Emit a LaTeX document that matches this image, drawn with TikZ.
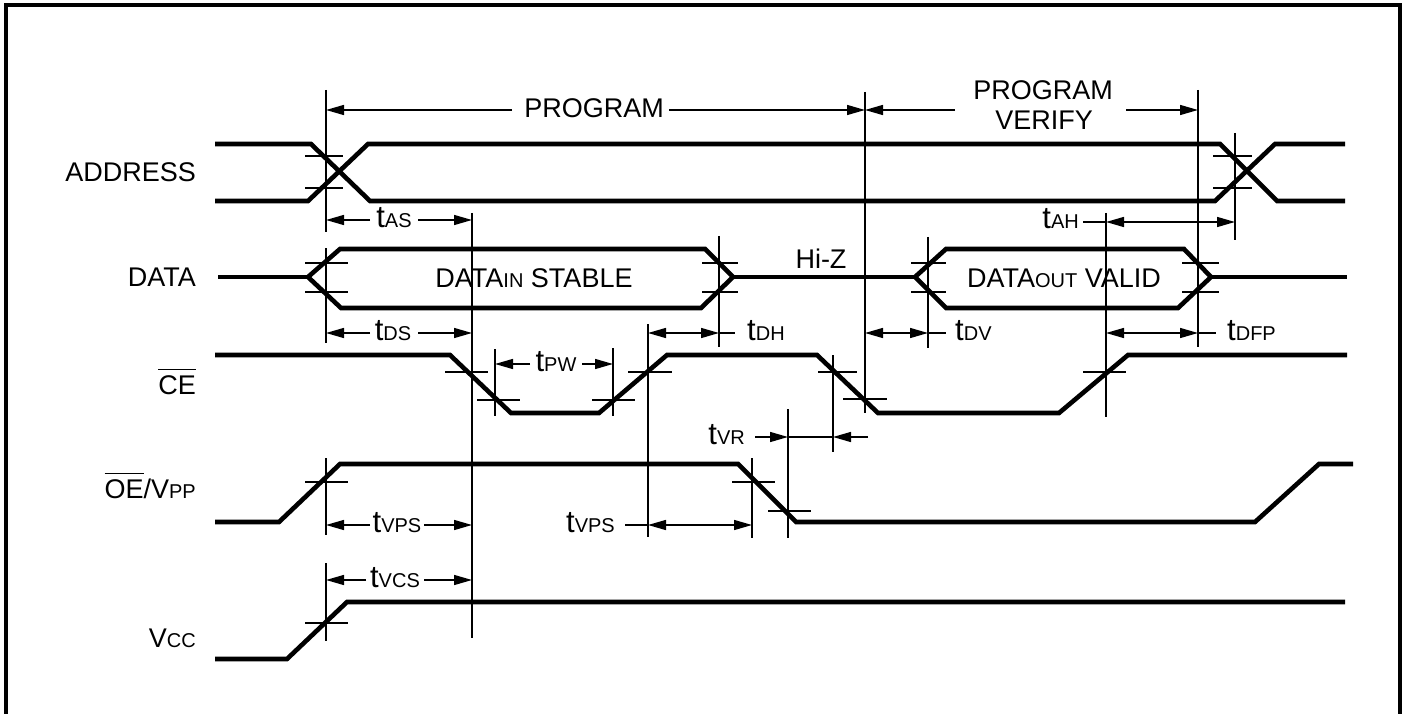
\documentclass[tikz,border=0pt]{standalone}
\usepackage{fontspec}
\setmainfont{Liberation Sans}
\usetikzlibrary{arrows.meta}
\newcommand\smc[1]{{\fontsize{20pt}{22pt}\selectfont #1}}
\newcommand\tee{{\fontsize{31pt}{31pt}\selectfont t}}
\newcommand\ovl[1]{\vbox{\hrule height 1.4pt\kern 5pt\hbox{#1}}}
\begin{document}
\begin{tikzpicture}[x=1pt,y=-1pt,
  sig/.style={line width=4.6pt, line join=miter},
  thin/.style={line width=1.4pt},
  dim/.style={thin, -{Triangle[length=18pt,width=10pt]}},
  ddim/.style={thin, {Triangle[length=18pt,width=10pt]}-{Triangle[length=18pt,width=10pt]}},
  lbl/.style={inner sep=0pt, anchor=base east},
  tl/.style={inner sep=0pt, anchor=base},
  tle/.style={inner sep=0pt, anchor=base east},
  tlw/.style={inner sep=0pt, anchor=base west},
  every node/.style={font=\fontsize{27pt}{30pt}\selectfont}
]
\useasboundingbox (0,0) rectangle (1408,714);
% border
\draw[line width=3.3pt] (6,714)--(6,5)--(1400,5)--(1400,714);

% signal names
\node[lbl] (nAddr) at (196,182) {ADDRESS};
\node[lbl] (nData) at (196,286) {DATA};
\node[lbl] (nCE) at (196,394) {\ovl{CE}};
\node[lbl] (nOE) at (196,498) {\ovl{OE}/V\smc{PP}};
\node[lbl] (nVcc) at (196,647) {V\smc{CC}};

% ADDRESS
\draw[sig] (215,144)--(311,144)--(370,201)--(1215,201)--(1275,144)--(1345,144);
\draw[sig] (215,201)--(308,201)--(368,144)--(1220,144)--(1277,201)--(1345,201);
% DATA
\draw[sig] (218,277)--(308,277);
\draw[sig] (308,277)--(340,249)--(705,249)--(733,277)--(701,308)--(341,308)--cycle;
\draw[sig] (733,277)--(915,277);
\draw[sig] (915,277)--(946,249)--(1184,249)--(1211,277)--(1178,308)--(946,308)--cycle;
\draw[sig] (1211,277)--(1347,277);
% CE
\draw[sig] (215,355)--(450,355)--(511,413)--(599,413)--(667,355)--(817,355)--(878,413)--(1059,413)--(1128,355)--(1347,355);
% OE/VPP
\draw[sig] (215,522)--(279,522)--(340,464)--(738,464)--(796,522)--(1255,522)--(1319,464)--(1353,464);
% VCC
\draw[sig] (215,659)--(287,659)--(347,602)--(1345,602);

% ticks
\foreach \y in {156,188} {
  \draw[thin] (305,\y)--(343,\y);
  \draw[thin] (1213,\y)--(1252,\y);
}
\foreach \y in {263,292} {
  \draw[thin] (305,\y)--(348,\y);
  \draw[thin] (702,\y)--(738,\y);
  \draw[thin] (911,\y)--(946,\y);
  \draw[thin] (1182,\y)--(1219,\y);
}
\draw[thin] (445,372)--(488,372);
\draw[thin] (477,400)--(520,400);
\draw[thin] (592,400)--(635,400);
\draw[thin] (628,372)--(672,372);
\draw[thin] (818,372)--(857,372);
\draw[thin] (843,399)--(887,399);
\draw[thin] (1083,372)--(1126,372);
\draw[thin] (305,482)--(348,482);
\draw[thin] (732,482)--(775,482);
\draw[thin] (768,511)--(811,511);
\draw[thin] (305,623)--(348,623);

% verticals
\draw[thin] (326,90)--(326,232);
\draw[thin] (326,248)--(326,343);
\draw[thin] (326,458)--(326,535);
\draw[thin] (326,563)--(326,641);
\draw[thin] (472,213)--(472,638);
\draw[thin] (495,349)--(495,416);
\draw[thin] (613,348)--(613,416);
\draw[thin] (648,324)--(648,537);
\draw[thin] (719,236)--(719,347);
\draw[thin] (752,458)--(752,538);
\draw[thin] (788,409)--(788,538);
\draw[thin] (833,355)--(833,452);
\draw[thin] (865,92)--(865,413);
\draw[thin] (928,237)--(928,348);
\draw[thin] (1106,213)--(1106,417);
\draw[thin] (1198,90)--(1198,347);
\draw[thin] (1235,133)--(1235,240);

% PROGRAM
\node[tl] (nProg) at (594,118) {PROGRAM};
\draw[dim] (512,110)--(326,110);
\draw[dim] (669,110)--(865,110);
\node[tl] (nPV1) at (1043,100) {PROGRAM};
\node[tl] (nPV2) at (1044,130) {VERIFY};
\draw[dim] (955,110)--(865,110);
\draw[dim] (1126,110)--(1198,110);

% tAS
\node[tl] (nAS) at (394,227) {\tee\smc{AS}};
\draw[dim] (370,220)--(326,220);
\draw[dim] (418,220)--(472,220);
% tAH
\node[tle] (nAH) at (1079,229) {\tee\smc{AH}};
\draw[thin] (1083,222)--(1106,222);
\draw[ddim] (1106,222)--(1235,222);
% tDS
\node[tl] (nDS) at (393,340) {\tee\smc{DS}};
\draw[dim] (370,333)--(326,333);
\draw[dim] (418,333)--(472,333);
% tDH
\draw[ddim] (648,333)--(719,333);
\draw[thin] (719,333)--(735,333);
\node[tlw] (nDH) at (747,340) {\tee\smc{DH}};
% tDV
\draw[ddim] (865,333)--(928,333);
\draw[thin] (928,333)--(946,333);
\node[tlw] (nDV) at (955,340) {\tee\smc{DV}};
% tDFP
\draw[ddim] (1106,333)--(1198,333);
\draw[thin] (1198,333)--(1216,333);
\node[tlw] (nDFP) at (1227,340) {\tee\smc{DFP}};
% tPW
\node[tl] (nPW) at (556,371) {\tee\smc{PW}};
\draw[dim] (530,364)--(495,364);
\draw[dim] (582,364)--(613,364);
% tVR
\node[tle] (nVR) at (745,444) {\tee\smc{VR}};
\draw[dim] (755,437)--(788,437);
\draw[thin] (788,437)--(833,437);
\draw[dim] (868,437)--(833,437);
% tVPS 1
\node[tl] (nVPS1) at (397,532) {\tee\smc{VPS}};
\draw[dim] (370,525)--(326,525);
\draw[dim] (424,525)--(472,525);
% tVPS 2
\node[tle] (nVPS2) at (615,532) {\tee\smc{VPS}};
\draw[thin] (625,525)--(648,525);
\draw[ddim] (648,525)--(752,525);
% tVCS
\node[tl] (nVCS) at (395,587) {\tee\smc{VCS}};
\draw[dim] (366,580)--(326,580);
\draw[dim] (424,580)--(472,580);

% data texts
\node[tl] (nDin) at (534,287) {DATA\smc{IN} STABLE};
\node[tl] (nDout) at (1064,287) {DATA\smc{OUT} VALID};
\node[tl] (nHiZ) at (821,268) {Hi-Z};
\end{tikzpicture}
\end{document}
